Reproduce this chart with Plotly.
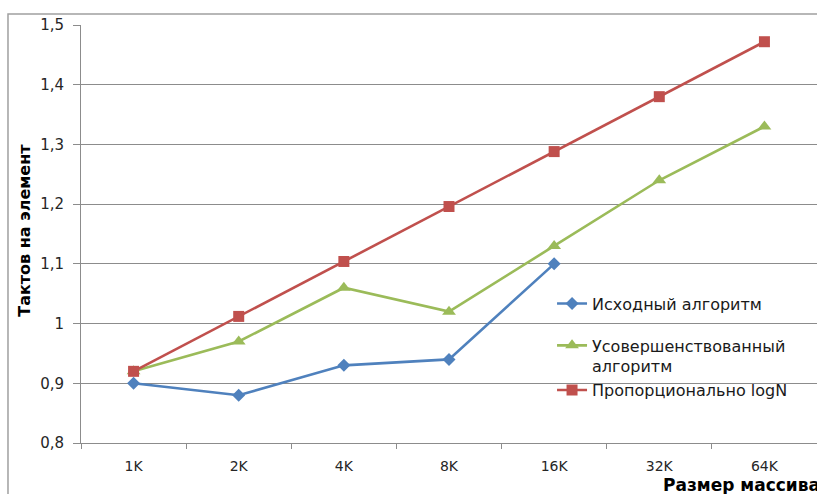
import plotly.graph_objects as go

# Array sizes on the x axis
sizes = ["1K", "2K", "4K", "8K", "16K", "32K", "64K"]

# Cycles per element for each variant
original = [0.90, 0.88, 0.93, 0.94, 1.10]
improved = [0.92, 0.97, 1.06, 1.02, 1.13, 1.24, 1.33]
log_n = [0.92, 1.012, 1.104, 1.196, 1.288, 1.38, 1.472]

y_ticks = [0.8, 0.9, 1.0, 1.1, 1.2, 1.3, 1.4, 1.5]
y_tick_text = ["0,8", "0,9", "1", "1,1", "1,2", "1,3", "1,4", "1,5"]

BLUE = "#4F81BD"
GREEN = "#9BBB59"
RED = "#C0504D"
GRAY = "#8C8C8C"

fig = go.Figure()
fig.add_trace(go.Scatter(
    x=sizes[:len(original)], y=original, mode="lines+markers",
    name="Исходный алгоритм", legendgroup="a",
    line=dict(color=BLUE, width=2.6),
    marker=dict(symbol="diamond", size=10, color=BLUE),
))
fig.add_trace(go.Scatter(
    x=sizes, y=improved, mode="lines+markers",
    name="Усовершенствованный<br>алгоритм", legendgroup="b",
    line=dict(color=GREEN, width=2.6),
    marker=dict(symbol="triangle-up", size=12, color=GREEN),
))
fig.add_trace(go.Scatter(
    x=sizes, y=log_n, mode="lines+markers",
    name="Пропорционально logN", legendgroup="b",
    line=dict(color=RED, width=2.6),
    marker=dict(symbol="square", size=11, color=RED),
))

fig.update_layout(
    width=817, height=494,
    margin=dict(l=81, r=0, t=25, b=51),
    paper_bgcolor="white", plot_bgcolor="white",
    font=dict(family="DejaVu Sans", size=13, color="#262626"),
    showlegend=True,
    legend=dict(
        x=0.64, y=0.374, xanchor="left", yanchor="top",
        font=dict(family="DejaVu Sans", size=16, color="#1a1a1a"),
        bgcolor="rgba(0,0,0,0)", tracegroupgap=18, itemwidth=30,
        valign="top",
    ),
    xaxis=dict(
        type="category", range=[-0.5, 6.5],
        showgrid=False, showline=True, linecolor=GRAY, linewidth=1,
        ticks="outside", tickson="boundaries", ticklen=5, tickcolor=GRAY,
        tickfont=dict(family="DejaVu Sans", size=14, color="#262626"),
        ticklabelstandoff=10,
        zeroline=False,
    ),
    yaxis=dict(
        range=[0.8, 1.5], tickvals=y_ticks, ticktext=y_tick_text,
        showgrid=True, gridcolor=GRAY, gridwidth=1,
        showline=True, linecolor=GRAY, linewidth=1,
        ticks="outside", ticklen=7, tickcolor=GRAY,
        tickfont=dict(family="DejaVu Sans", size=15, color="#262626"),
        ticklabelstandoff=6,
        zeroline=False,
    ),
    shapes=[dict(
        type="rect", xref="paper", yref="paper",
        x0=-0.0992, x1=1.2, y0=-0.3, y1=1.0263,
        line=dict(color="#A0A0A0", width=1.5), layer="below",
    )],
    annotations=[
        dict(text="<b>Тактов на элемент</b>", xref="paper", yref="paper",
             x=-0.076, y=0.508, textangle=-90, showarrow=False,
             xanchor="center", yanchor="middle",
             font=dict(family="DejaVu Sans", size=16, color="black")),
        dict(text="<b>Размер массива</b>", xref="paper", yref="paper",
             x=0.788, y=-0.1, showarrow=False,
             xanchor="left", yanchor="middle",
             font=dict(family="DejaVu Sans", size=17, color="black")),
    ],
)

fig.write_html("out.html")
